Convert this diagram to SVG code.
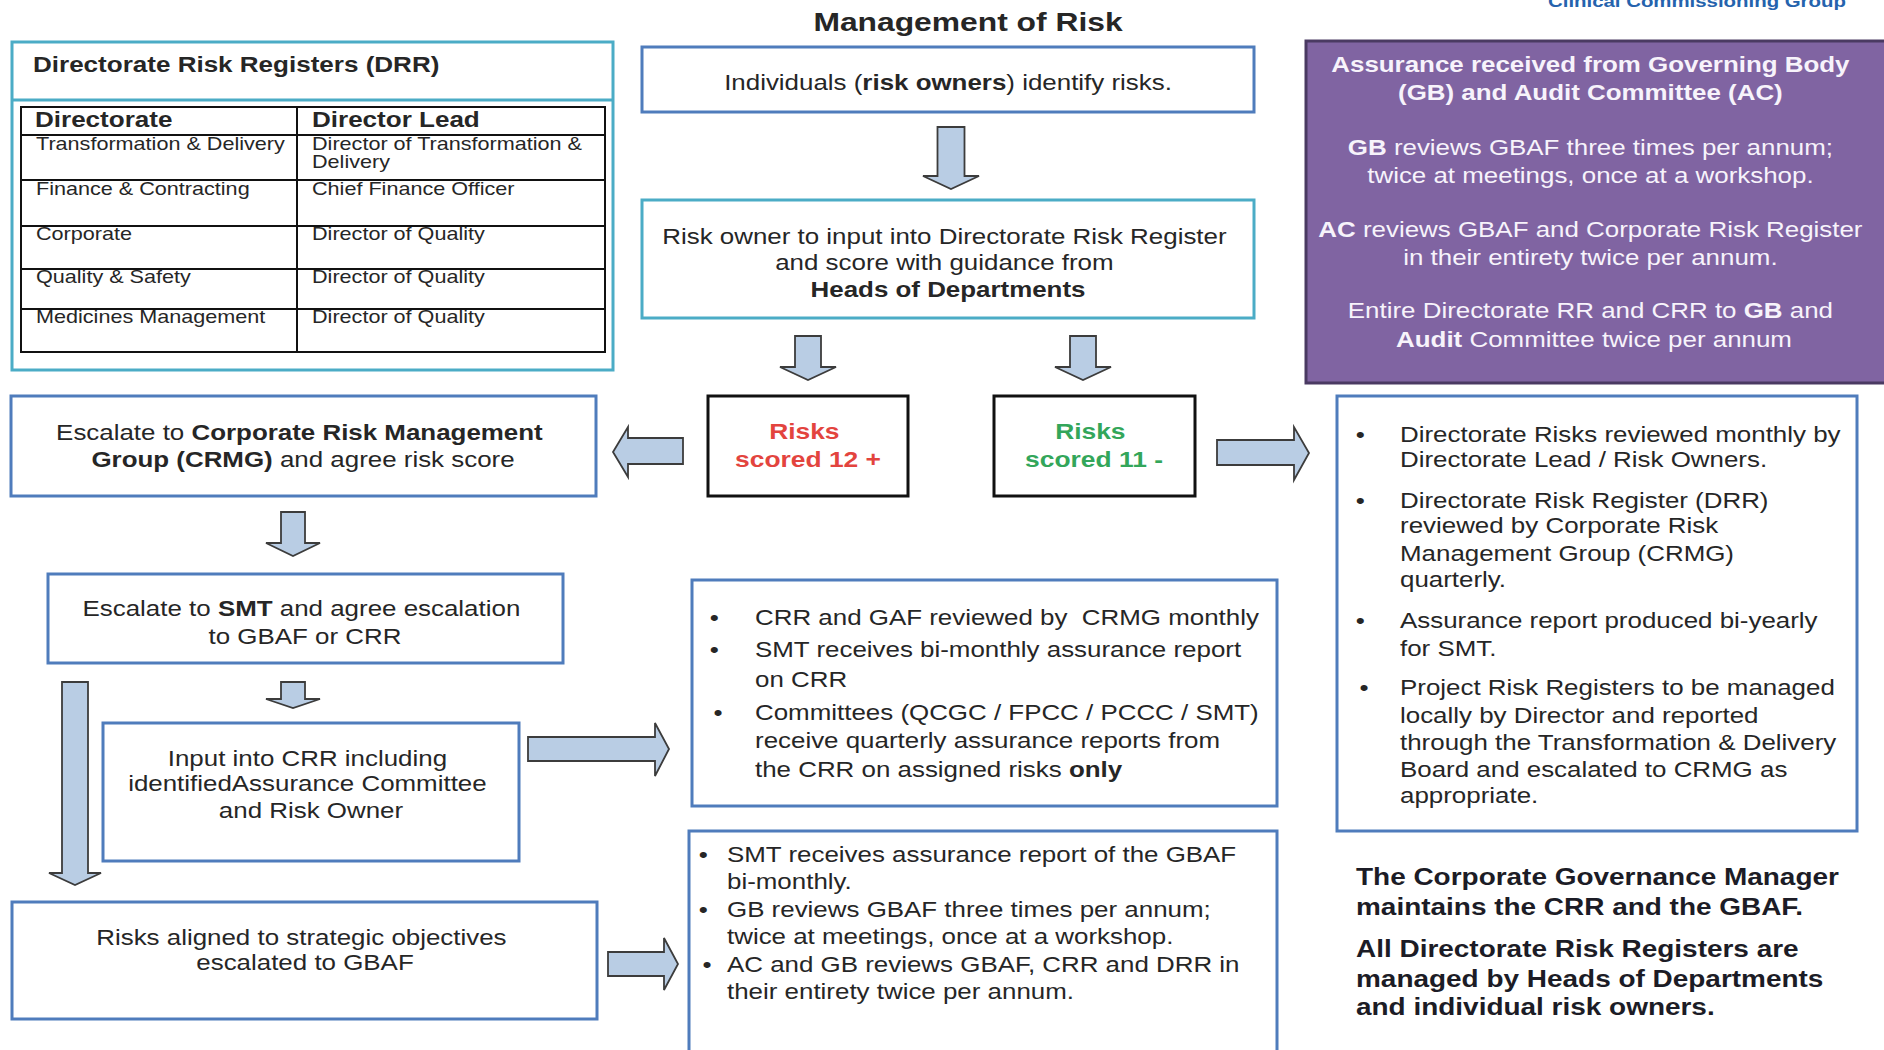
<svg xmlns="http://www.w3.org/2000/svg" width="1884" height="1050" viewBox="0 0 1884 1050">
<style>
text { font-family: "Liberation Sans", Arial, Helvetica, sans-serif; fill: #262626; }
.c { text-anchor: middle; }
.b { font-weight: bold; }
.f { font-size: 21.6px; }
.blue { fill: #ffffff; stroke: #4f7cbc; stroke-width: 3; }
.teal { fill: #ffffff; stroke: #4bacc6; stroke-width: 3; }
.blk { fill: #ffffff; stroke: #111111; stroke-width: 3; }
.arrow { fill: #b9cde4; stroke: #3c3c3c; stroke-width: 1.8; stroke-linejoin: miter; }
.grid { fill: none; stroke: #111111; stroke-width: 2; }
.pw { fill: #f7f3fb; }
.red { fill: #e3443e; }
.green { fill: #33a65a; }
.nhs { fill: #2563ad; }
.dark { fill: #1c1c26; }
</style>
<rect x="0" y="0" width="1884" height="1050" fill="#ffffff"/>

<g id="header">
  <text class="b nhs" font-size="17" transform="matrix(1.2 0 0 1 1548 7)">Clinical Commissioning Group</text>
  <text class="b c" font-size="26.5" transform="matrix(1.2 0 0 1 968 31)">Management of Risk</text>
</g>

<g id="drr">
  <rect x="12" y="42" width="601" height="328" class="teal"/>
  <line x1="12" y1="100" x2="613" y2="100" stroke="#4bacc6" stroke-width="3"/>
  <text class="b" font-size="21.7" transform="matrix(1.2 0 0 1 33 72)">Directorate Risk Registers (DRR)</text>
  <rect x="21" y="107" width="584" height="245" class="grid"/>
  <path class="grid" d="M21 135H605M21 180H605M21 226H605M21 269H605M21 309H605M297 107V352"/>
  <text class="b" font-size="21.7" transform="matrix(1.2 0 0 1 35 127)">Directorate</text>
  <text class="b" font-size="21.7" transform="matrix(1.2 0 0 1 312 127)">Director Lead</text>
  <text font-size="18" transform="matrix(1.2 0 0 1 36 0)">
    <tspan x="0" y="150">Transformation &amp; Delivery</tspan>
    <tspan x="0" y="195">Finance &amp; Contracting</tspan>
    <tspan x="0" y="240">Corporate</tspan>
    <tspan x="0" y="283">Quality &amp; Safety</tspan>
    <tspan x="0" y="323">Medicines Management</tspan>
  </text>
  <text font-size="18" transform="matrix(1.2 0 0 1 312 0)">
    <tspan x="0" y="150">Director of Transformation &amp;</tspan>
    <tspan x="0" y="168">Delivery</tspan>
    <tspan x="0" y="195">Chief Finance Officer</tspan>
    <tspan x="0" y="240">Director of Quality</tspan>
    <tspan x="0" y="283">Director of Quality</tspan>
    <tspan x="0" y="323">Director of Quality</tspan>
  </text>
</g>

<g id="identify">
  <rect x="642" y="47" width="612" height="65" class="blue"/>
  <text class="c f" transform="matrix(1.2 0 0 1 948 90)">Individuals (<tspan class="b">risk owners</tspan>) identify risks.</text>
</g>

<g id="input-drr">
  <rect x="642" y="200" width="612" height="118" class="teal"/>
  <text class="c f" transform="matrix(1.2 0 0 1 948 0)">
    <tspan x="0" y="244">Risk owner to input into Directorate Risk Register</tspan>
    <tspan x="0" y="270">and score with guidance from</tspan>
    <tspan x="0" y="297" class="b">Heads of Departments</tspan>
  </text>
</g>

<g id="risks-high">
  <rect x="708" y="396" width="200" height="100" class="blk"/>
  <text class="c b red" font-size="22" transform="matrix(1.2 0 0 1 808 0)">
    <tspan x="0" y="439">Risks</tspan>
    <tspan x="0" y="467">scored 12 +</tspan>
  </text>
</g>

<g id="risks-low">
  <rect x="994" y="396" width="201" height="100" class="blk"/>
  <text class="c b green" font-size="22" transform="matrix(1.2 0 0 1 1094 0)">
    <tspan x="0" y="439">Risks</tspan>
    <tspan x="0" y="467">scored 11 -</tspan>
  </text>
</g>

<g id="assurance">
  <rect x="1306" y="41" width="590" height="342" fill="#8064a2" stroke="#4a3a62" stroke-width="3"/>
  <text class="c f pw" transform="matrix(1.2 0 0 1 1594 0)">
    <tspan x="0" y="72" class="b pw">Assurance received from Governing Body</tspan>
    <tspan x="0" y="100" class="b pw">(GB) and Audit Committee (AC)</tspan>
    <tspan x="0" y="155"><tspan class="b pw">GB</tspan> reviews GBAF three times per annum;</tspan>
    <tspan x="0" y="183">twice at meetings, once at a workshop.</tspan>
    <tspan x="0" y="237"><tspan class="b pw">AC</tspan> reviews GBAF and Corporate Risk Register</tspan>
    <tspan x="0" y="265">in their entirety twice per annum.</tspan>
    <tspan x="0" y="318">Entire Directorate RR and CRR to <tspan class="b pw">GB</tspan> and</tspan>
    <tspan x="0" y="347"><tspan class="b pw">Audit</tspan> Committee twice per annum</tspan>
  </text>
</g>

<g id="crmg">
  <rect x="11" y="396" width="585" height="100" class="blue"/>
  <text class="c f" transform="matrix(1.2 0 0 1 303 0)">
    <tspan x="0" y="440">Escalate to <tspan class="b">Corporate Risk Management</tspan></tspan>
    <tspan x="0" y="467"><tspan class="b">Group (CRMG)</tspan> and agree risk score</tspan>
  </text>
</g>

<g id="smt">
  <rect x="48" y="574" width="515" height="89" class="blue"/>
  <text class="c f" transform="matrix(1.2 0 0 1 305 0)">
    <tspan x="0" y="616">Escalate to <tspan class="b">SMT</tspan> and agree escalation</tspan>
    <tspan x="0" y="644">to GBAF or CRR</tspan>
  </text>
</g>

<g id="input-crr">
  <rect x="103" y="723" width="416" height="138" class="blue"/>
  <text class="c f" transform="matrix(1.2 0 0 1 311 0)">
    <tspan x="0" y="766">Input into CRR including</tspan>
    <tspan x="0" y="791">identifiedAssurance Committee</tspan>
    <tspan x="0" y="818">and Risk Owner</tspan>
  </text>
</g>

<g id="gbaf">
  <rect x="12" y="902" width="585" height="117" class="blue"/>
  <text class="c f" transform="matrix(1.2 0 0 1 305 0)">
    <tspan x="0" y="945">Risks aligned to strategic objectives</tspan>
    <tspan x="0" y="970">escalated to GBAF</tspan>
  </text>
</g>

<g id="crr-review">
  <rect x="692" y="580" width="585" height="226" class="blue"/>
  <text class="c f" transform="matrix(1.2 0 0 1 718 0)">
    <tspan x="0" y="625">•</tspan>
    <tspan x="0" y="657">•</tspan>
    <tspan x="0" y="720">•</tspan>
  </text>
  <text class="f" transform="matrix(1.2 0 0 1 755 0)">
    <tspan x="0" y="625">CRR and GAF reviewed by&#160; CRMG monthly</tspan>
    <tspan x="0" y="657">SMT receives bi-monthly assurance report</tspan>
    <tspan x="0" y="687">on CRR</tspan>
    <tspan x="0" y="720">Committees (QCGC / FPCC / PCCC / SMT)</tspan>
    <tspan x="0" y="748">receive quarterly assurance reports from</tspan>
    <tspan x="0" y="777">the CRR on assigned risks <tspan class="b">only</tspan></tspan>
  </text>
</g>

<g id="gbaf-review">
  <rect x="689" y="831" width="588" height="232" class="blue"/>
  <text class="c f" transform="matrix(1.2 0 0 1 707 0)">
    <tspan x="0" y="862">•</tspan>
    <tspan x="0" y="917">•</tspan>
    <tspan x="0" y="972">•</tspan>
  </text>
  <text class="f" transform="matrix(1.2 0 0 1 727 0)">
    <tspan x="0" y="862">SMT receives assurance report of the GBAF</tspan>
    <tspan x="0" y="889">bi-monthly.</tspan>
    <tspan x="0" y="917">GB reviews GBAF three times per annum;</tspan>
    <tspan x="0" y="944">twice at meetings, once at a workshop.</tspan>
    <tspan x="0" y="972">AC and GB reviews GBAF, CRR and DRR in</tspan>
    <tspan x="0" y="999">their entirety twice per annum.</tspan>
  </text>
</g>

<g id="drr-review">
  <rect x="1337" y="396" width="520" height="435" class="blue"/>
  <text class="c f" transform="matrix(1.2 0 0 1 1364 0)">
    <tspan x="0" y="442">•</tspan>
    <tspan x="0" y="508">•</tspan>
    <tspan x="0" y="628">•</tspan>
    <tspan x="0" y="695">•</tspan>
  </text>
  <text class="f" font-size="21.3" transform="matrix(1.2 0 0 1 1400 0)">
    <tspan x="0" y="442">Directorate Risks reviewed monthly by</tspan>
    <tspan x="0" y="467">Directorate Lead / Risk Owners.</tspan>
    <tspan x="0" y="508">Directorate Risk Register (DRR)</tspan>
    <tspan x="0" y="533">reviewed by Corporate Risk</tspan>
    <tspan x="0" y="561">Management Group (CRMG)</tspan>
    <tspan x="0" y="587">quarterly.</tspan>
    <tspan x="0" y="628">Assurance report produced bi-yearly</tspan>
    <tspan x="0" y="656">for SMT.</tspan>
    <tspan x="0" y="695">Project Risk Registers to be managed</tspan>
    <tspan x="0" y="723">locally by Director and reported</tspan>
    <tspan x="0" y="750">through the Transformation &amp; Delivery</tspan>
    <tspan x="0" y="777">Board and escalated to CRMG as</tspan>
    <tspan x="0" y="803">appropriate.</tspan>
  </text>
</g>

<g id="note">
  <text class="b dark" font-size="23.3" transform="matrix(1.2 0 0 1 1356 0)">
    <tspan x="0" y="885">The Corporate Governance Manager</tspan>
    <tspan x="0" y="915">maintains the CRR and the GBAF.</tspan>
    <tspan x="0" y="957">All Directorate Risk Registers are</tspan>
    <tspan x="0" y="987">managed by Heads of Departments</tspan>
    <tspan x="0" y="1015">and individual risk owners.</tspan>
  </text>
</g>

<g id="connectors">
  <path class="arrow" d="M937.5 127H964.5V176H979L951 189L923 176H937.5Z"/>
  <path class="arrow" d="M795 336H821V367H836L808 380L780 367H795Z"/>
  <path class="arrow" d="M1070 336H1096V367H1111L1083 380L1055 367H1070Z"/>
  <path class="arrow" d="M683 438H628V427L613 452L628 477V464H683Z"/>
  <path class="arrow" d="M1217 440H1294V427L1309 453L1294 480V465H1217Z"/>
  <path class="arrow" d="M281 512H305V543H320L293 556L266 543H281Z"/>
  <path class="arrow" d="M281 682H305V699H320L293 708L266 699H281Z"/>
  <path class="arrow" d="M62 682H88V873H101L75 885L49 873H62Z"/>
  <path class="arrow" d="M528 737H655V723L669 749L655 776V761H528Z"/>
  <path class="arrow" d="M608 952H664V938L678 964L664 990V976H608Z"/>
</g>
</svg>
